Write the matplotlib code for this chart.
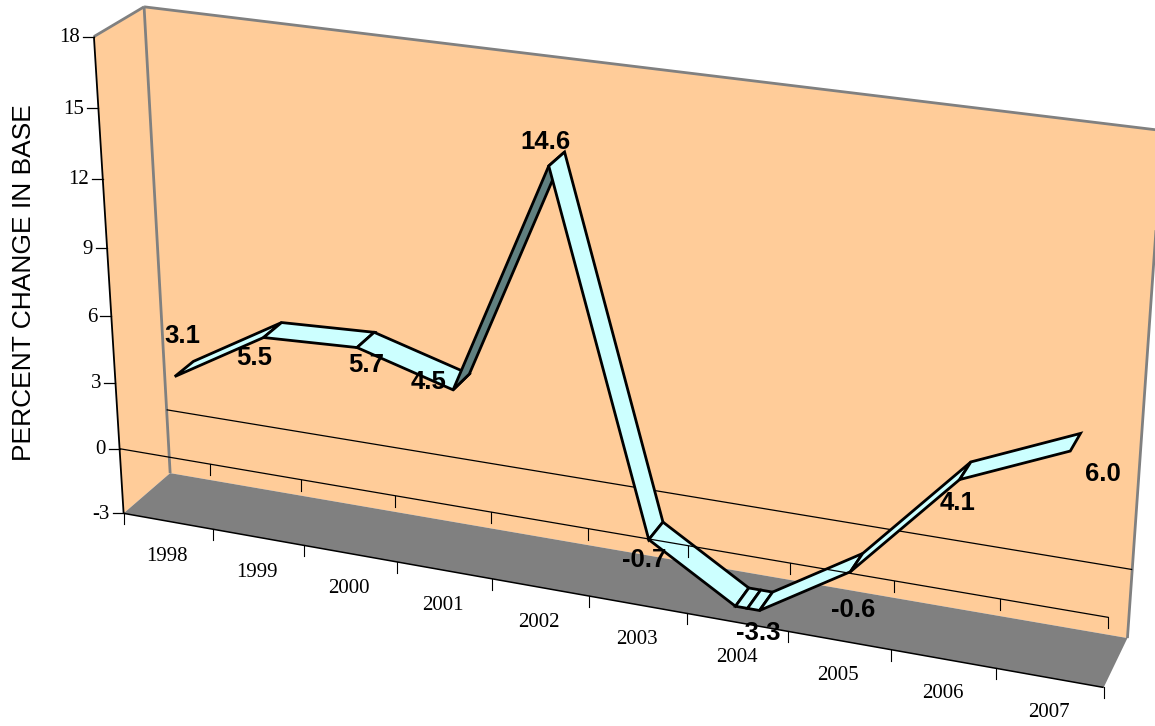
import numpy as np
import matplotlib
matplotlib.use("Agg")
import matplotlib.pyplot as plt

years = ["1998", "1999", "2000", "2001", "2002", "2003", "2004", "2005", "2006", "2007"]
pct_change = [3.1, 5.5, 5.7, 4.5, 14.6, -0.7, -3.3, -0.6, 4.1, 6.0]
# height of the ribbon as drawn, it sits a bit above its label at 2004
ribbon_level = [3.1, 5.5, 5.7, 4.5, 14.6, -0.7, -3.0, -0.6, 4.1, 6.0]
value_ticks = [-3, 0, 3, 6, 9, 12, 15, 18]

V_MIN, V_MAX = -3, 18
RIBBON_Z = (0.3, 0.7)
# pixel offsets of the value labels from the ribbon point
label_offsets = [(8, -41), (-9, 20), (9, 17), (-25, -8), (-3, -24), (-5, 20), (11, 25), (3, 38), (-2, 23), (33, 23)]

# box corners / ticks as seen on the page: (x, value, depth) -> (px, py)
calibration = [
    ((0, -3, 0), (124, 513)), ((0, 18, 0), (94, 36)), ((10, -3, 0), (1104, 688)),
    ((0, -3, 1), (170, 473)), ((0, 18, 1), (144, 7)), ((10, -3, 1), (1128, 637)),
    ((10, 18, 1), (1163, 131)), ((0, 0, 0), (120, 449)), ((10, 0, 0), (1108, 617)),
    ((0, 0, 1), (166.5, 410)), ((10, 0, 1), (1132, 570)),
    ((1, -3, 0), (212.5, 530)), ((2, -3, 0), (304, 545)),
    ((6, -3, 0), (687, 613)), ((7, -3, 0), (788, 632)),
]


def fit_camera(pairs):
    rows = []
    for (x, v, z), (px, py) in pairs:
        p = [x, v, z, 1]
        rows.append(p + [0, 0, 0, 0] + [-px * c for c in p])
        rows.append([0, 0, 0, 0] + p + [-py * c for c in p])
    return np.linalg.svd(np.array(rows, dtype=float))[2][-1].reshape(3, 4)


camera = fit_camera(calibration)


def project(x, v, z):
    q = camera @ np.array([x, v, z, 1.0])
    return q[0] / q[2], q[1] / q[2]


def poly(ax, pts, **kw):
    xy = [project(*p) for p in pts]
    ax.fill([a for a, b in xy], [b for a, b in xy], **kw)


def edge(ax, p0, p1, **kw):
    a, b = project(*p0), project(*p1)
    ax.plot([a[0], b[0]], [a[1], b[1]], solid_capstyle="butt", **kw)


def main():
    fig = plt.figure(figsize=(11.55, 7.26), dpi=100)
    ax = fig.add_axes([0, 0, 1, 1])
    ax.set_xlim(0, 1155)
    ax.set_ylim(726, 0)
    ax.axis("off")

    wall = "#FFCC99"
    floor = "#808080"
    grey = "#808080"
    light = "#CCFFFF"
    dark = "#608080"
    serif = "Liberation Serif"
    sans = "Liberation Sans"

    # walls and floor
    poly(ax, [(0, V_MIN, 1), (0, V_MAX, 1), (10, V_MAX, 1), (10, V_MIN, 1)], fc=wall, ec="none")
    poly(ax, [(0, V_MIN, 0), (0, V_MAX, 0), (0, V_MAX, 1), (0, V_MIN, 1)], fc=wall, ec="none")
    poly(ax, [(0, V_MIN, 0), (0, V_MIN, 1), (10, V_MIN, 1), (10, V_MIN, 0)], fc=floor, ec="none")
    edge(ax, (0, V_MAX, 0), (0, V_MAX, 1), color=grey, lw=2)
    edge(ax, (0, V_MAX, 1), (10, V_MAX, 1), color=grey, lw=2)
    edge(ax, (0, V_MAX, 1), (0, V_MIN, 1), color=grey, lw=2)
    edge(ax, (10, V_MAX, 1), (10, V_MIN, 1), color=grey, lw=2)
    edge(ax, (0, V_MAX, 0), (0, V_MIN, 0), color="black", lw=1.3)
    edge(ax, (0, V_MIN, 0), (10, V_MIN, 0), color="black", lw=1.1)

    # zero line on the back wall
    edge(ax, (0, 0, 1), (10, 0, 1), color="black", lw=0.9)

    # value axis
    for v in value_ticks:
        px, py = project(0, v, 0)
        ax.plot([px - 11, px], [py, py], color="black", lw=0.9)
        ax.text(px - 14, py + 1, str(v), ha="right", va="center", family=serif, fontsize=15)

    # ribbon: 2004 is a short flat stretch
    xs, vs = [], []
    for i, v in enumerate(ribbon_level):
        if years[i] == "2004":
            xs += [i + 0.38, i + 0.5, i + 0.62]
            vs += [v, v, v]
        else:
            xs.append(i + 0.5)
            vs.append(v)
    z0, z1 = RIBBON_Z
    for i in range(len(xs) - 1):
        rising = vs[i + 1] - vs[i] > 6
        poly(ax, [(xs[i], vs[i], z0), (xs[i + 1], vs[i + 1], z0),
                  (xs[i + 1], vs[i + 1], z1), (xs[i], vs[i], z1)],
             fc=dark if rising else light, ec="black", lw=2.0, joinstyle="miter", zorder=3)

    # zero line at the front, over the ribbon start
    edge(ax, (0, 0, 0), (10, 0, 0), color="black", lw=0.9, zorder=4)
    for i in range(1, 11):
        px, py = project(i, 0, 0)
        ax.plot([px, px], [py, py + 11], color="black", lw=0.8, zorder=4)
    for i in range(0, 11):
        px, py = project(i, V_MIN, 0)
        ax.plot([px, px], [py, py + 11], color="black", lw=0.8)

    for i, year in enumerate(years):
        px, py = project(i + 0.5, V_MIN, 0)
        ax.text(px - 1, py + 35, year, ha="center", va="center", family=serif, fontsize=15)

    for i, v in enumerate(pct_change):
        px, py = project(i + 0.5, ribbon_level[i], z0)
        dx, dy = label_offsets[i]
        ax.text(px + dx, py + dy, f"{v:.1f}", ha="center", va="center",
                family=sans, weight="bold", fontsize=18.5, zorder=5)

    ax.text(24, 283, "PERCENT CHANGE IN BASE", rotation=90, ha="center", va="center",
            family=sans, fontsize=19)

    fig.savefig("out.png", dpi=100)


if __name__ == "__main__":
    main()
